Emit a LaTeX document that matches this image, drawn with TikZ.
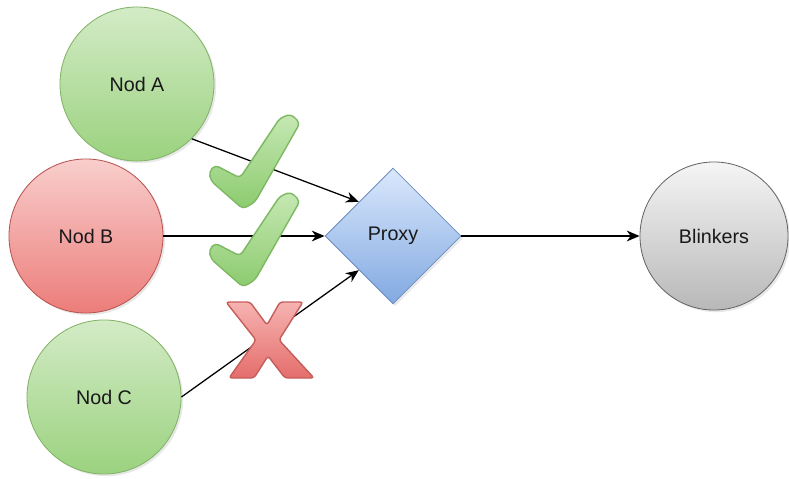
\documentclass[tikz,border=0pt]{standalone}
\usepackage{fontspec}
\setmainfont{Liberation Sans}
\usetikzlibrary{shapes.geometric,arrows.meta,shadows}

\definecolor{greenTop}{HTML}{D3EBC6}
\definecolor{greenBot}{HTML}{9BD27F}
\definecolor{greenLine}{HTML}{82B366}
\definecolor{redTop}{HTML}{F8CECC}
\definecolor{redBot}{HTML}{EC7D7A}
\definecolor{redLine}{HTML}{B85450}
\definecolor{blueTop}{HTML}{DAE8FC}
\definecolor{blueBot}{HTML}{82A9E1}
\definecolor{blueLine}{HTML}{6C8EBF}
\definecolor{greyTop}{HTML}{F5F5F5}
\definecolor{greyBot}{HTML}{B8B8B8}
\definecolor{greyLine}{HTML}{666666}
\definecolor{tickTop}{HTML}{C6E8B4}
\definecolor{tickBot}{HTML}{8CCB6E}
\definecolor{tickLine}{HTML}{7DB862}
\definecolor{crossTop}{HTML}{F6B3B1}
\definecolor{crossBot}{HTML}{E46E6C}
\definecolor{crossLine}{HTML}{C45E5B}

\tikzset{
  shapebase/.style={draw, line width=0.6pt, inner sep=0pt, text=black!90,
    font=\fontsize{14}{17}\selectfont,
    drop shadow={shadow xshift=1.5pt, shadow yshift=-1.5pt, opacity=0.18}},
  okcircle/.style={shapebase, circle, minimum size=3.85cm,
    top color=greenTop, bottom color=greenBot, draw=greenLine},
  badcircle/.style={shapebase, circle, minimum size=3.85cm,
    top color=redTop, bottom color=redBot, draw=redLine},
  proxybox/.style={shapebase, diamond, aspect=1, minimum size=3.4cm,
    top color=blueTop, bottom color=blueBot, draw=blueLine},
  sinkcircle/.style={shapebase, circle, minimum size=3.7cm,
    top color=greyTop, bottom color=greyBot, draw=greyLine},
  link/.style={line width=0.9pt, black,
    -{Stealth[length=3.2mm, width=2.7mm, inset=1mm]}},
  tickmark/.style={top color=tickTop, bottom color=tickBot, draw=tickLine,
    line width=1pt, rounded corners=3pt},
  crossmark/.style={top color=crossTop, bottom color=crossBot, draw=crossLine,
    line width=1pt, rounded corners=2pt},
}

\begin{document}
\begin{tikzpicture}[x=0.025cm, y=-0.025cm]
\useasboundingbox (0,0) rectangle (789,479);

% nodes
\node[okcircle]   (A)  at (137,84)  {Nod A};
\node[badcircle]  (B)  at (86,236)  {Nod B};
\node[okcircle]   (C)  at (104,397) {Nod C};
\node[proxybox]   (P)  at (393,236) {Proxy};
\node[sinkcircle] (Bl) at (714,236) {Blinkers};

% connectors
\draw[link] (A.-45) -- (P.north west);
\draw[link] (B.east) -- (P.west);
\draw[link] (C.east) -- (P.south west);
\draw[link] (P.east) -- (Bl.west);

% accepted marks
\foreach \dy in {0,78} {
  \begin{scope}[yshift=-\dy*0.025cm]
    \draw[tickmark] (215,165) -- (240,178) -- (280,118) -- (291,114)
      -- (300,123) -- (255,202) -- (243,209) -- (211,181) -- (209,172) -- cycle;
  \end{scope}
}

% rejected mark
\draw[crossmark] (226,302) -- (250,302) -- (267,325) -- (280,302) -- (303,302)
  -- (279,340) -- (314,378) -- (285,378) -- (268,356) -- (254,378)
  -- (229,378) -- (256,340) -- cycle;
\end{tikzpicture}
\end{document}
